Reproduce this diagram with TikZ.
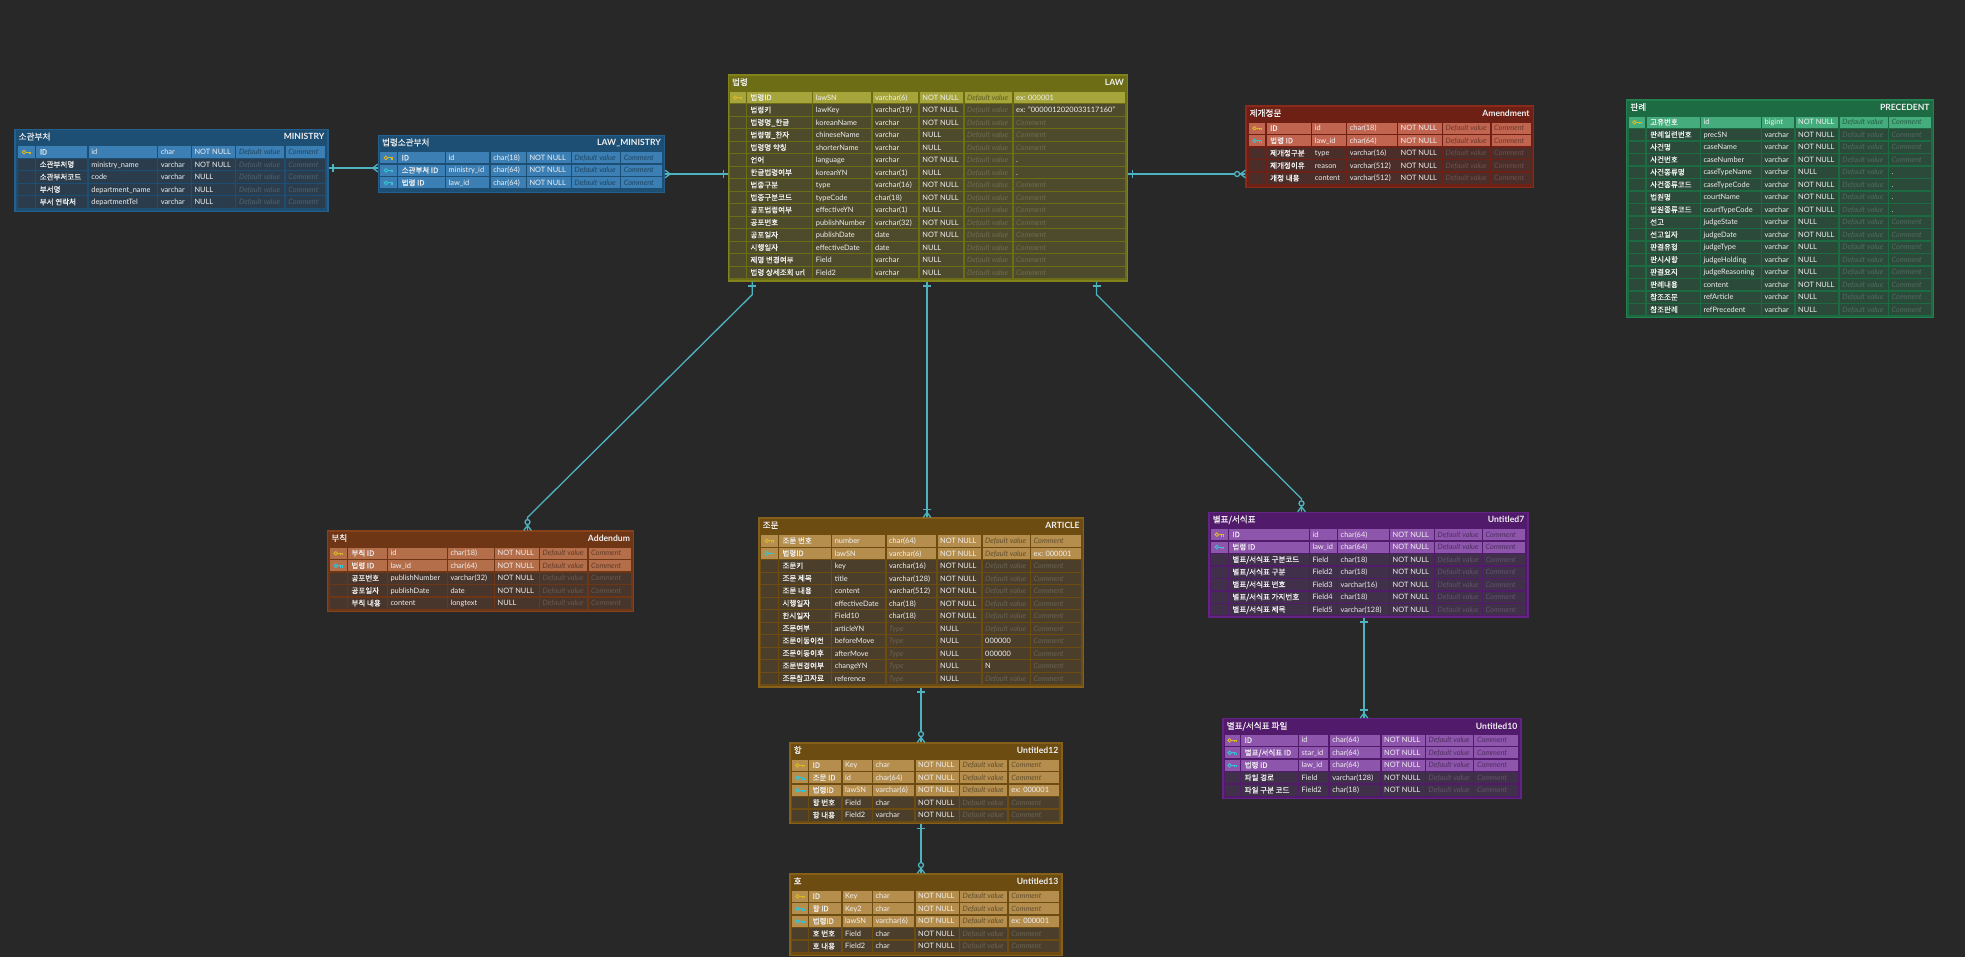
\documentclass[tikz,border=0pt]{standalone}
\usepackage{fontspec}
\setmainfont{Lato}
\newfontfamily\krf[FakeBold=0.5]{Noto Sans CJK KR}
\usetikzlibrary{fit}

\definecolor{bg}{HTML}{282828}
\definecolor{cn}{HTML}{4DB3C0}
\definecolor{ykey}{HTML}{D9B828}
\definecolor{ckey}{HTML}{36C3D3}
\definecolor{txtc}{HTML}{F0F0F0}

\newcommand\deftheme[5]{%
 \definecolor{#1FR}{HTML}{#2}\definecolor{#1BD}{HTML}{#3}%
 \definecolor{#1KY}{HTML}{#4}\definecolor{#1NM}{HTML}{#5}%
 \colorlet{#1KD}{#1KY!55!black}\colorlet{#1ND}{#1NM!82!white}}
\deftheme{blu}{1D4E73}{25608C}{3B7FB4}{2B3D4C}
\deftheme{olv}{6D6D16}{82821A}{A5A53C}{4E4B2C}
\deftheme{rdd}{6F2015}{8B2A1A}{C26550}{4B2D29}
\deftheme{grn}{1C6B43}{22814F}{45AD7D}{2B4A3A}
\deftheme{org}{6F3615}{86421A}{B46E4A}{48352B}
\deftheme{gld}{6D4C12}{866018}{B58E4E}{4B3F2C}
\deftheme{pur}{511A6B}{632485}{8E55AD}{40304A}

\tikzset{
 ltxt/.style={anchor=base west, inner sep=0, text=txtc, font=\fontsize{7.4}{9}\selectfont},
 ktxt/.style={anchor=base west, inner sep=0, text=txtc, font=\krf\fontsize{7.5}{9}\selectfont},
 ttlk/.style={anchor=base west, inner sep=0, text=txtc, font=\krf\fontsize{8.6}{10}\selectfont},
 ttle/.style={anchor=base east, inner sep=0, text=txtc, font=\bfseries\fontsize{8.6}{10}\selectfont},
 conn/.style={draw=cn, line width=1.3},
 tframe/.style={inner sep=0, line width=1.2}
}

\def\dv{\textcolor{dimc}{\itshape Default value}}
\def\cmt{\textcolor{dimc}{\itshape Comment}}
\def\typ{\textcolor{dimc}{\itshape Type}}

\newcommand\cols[8]{\def\bA{#1}\def\bB{#2}\def\bC{#3}\def\bD{#4}\def\bE{#5}\def\bF{#6}\def\bG{#7}\def\bH{#8}}
\newcommand\cellbox[2]{\fill[fill=\cf] (#1,\yt) rectangle ({#2-1.3},\yb);}
\newcommand\keyicon[1]{%
 \pgfmathsetmacro\cx{(\bA+\bB-1.3)/2}\pgfmathsetmacro\cy{\yt+5.6}%
 \draw[#1, line width=0.9] ({\cx-2.6},\cy) circle (1.8);
 \draw[#1, line width=0.9] ({\cx-0.8},\cy) -- ({\cx+4.2},\cy) ({\cx+2.4},\cy) -- ({\cx+2.4},{\cy+1.9}) ({\cx+4},\cy) -- ({\cx+4},{\cy+1.9});}
\newcommand\rw[8]{%
 \pgfmathsetmacro\yt{\ry+12.5*#1}%
 \pgfmathsetmacro\yb{\yt+11.2}%
 \pgfmathsetmacro\yl{\yt+8.2}%
 \if#2n\edef\cf{\tth NM}\colorlet{dimc}{\tth ND}\else\edef\cf{\tth KY}\colorlet{dimc}{\tth KD}\fi
 \cellbox\bA\bB \cellbox\bB\bC \cellbox\bC\bD \cellbox\bD\bE \cellbox\bE\bF \cellbox\bF\bG \cellbox\bG\bH
 \node[ktxt] (\tname-#1-1) at ({\bB+3.5},\yl) {#3};
 \node[ltxt] (\tname-#1-2) at ({\bC+2.5},\yl) {#4};
 \node[ltxt] (\tname-#1-3) at ({\bD+2.5},\yl) {#5};
 \node[ltxt] (\tname-#1-4) at ({\bE+2.5},\yl) {#6};
 \node[ltxt] (\tname-#1-5) at ({\bF+2.5},\yl) {#7};
 \node[ltxt] (\tname-#1-6) at ({\bG+2.5},\yl) {#8};
 \if#2p\keyicon{ykey}\fi\if#2f\keyicon{ckey}\fi}
\newcommand\dbtbl[8]{%
 \def\tth{#2}\def\tname{#1}%
 \node[tframe, draw=#2BD, fill=#2FR, fit={(#3,#4) (#5,#6)}] (#1) {};
 \node[ttlk] (#1-tk) at ({#3+3.5},{#4+10.3}) {#7};
 \node[ttle] (#1-te) at ({#5-3.5},{#4+10.3}) {#8};}

\newcommand\mkone[2]{\begin{scope}[shift={(#1)},rotate=#2]\draw[conn] (-4.5,-4) -- (-4.5,4);\end{scope}}
\newcommand\mkbar[2]{\begin{scope}[shift={(#1)},rotate=#2]\draw[conn] (-8,-4) -- (-8,4);\end{scope}}
\newcommand\mkmany[2]{\begin{scope}[shift={(#1)},rotate=#2]\draw[conn] (-5,0) -- (0,-3.8) (-5,0) -- (0,3.8);\end{scope}}
\newcommand\mkzero[2]{\begin{scope}[shift={(#1)},rotate=#2]\draw[conn,fill=bg] (-8.3,0) circle (2.5);\end{scope}}

\begin{document}
\begin{tikzpicture}[x=1pt,y=-1pt]
\useasboundingbox (0,0) rectangle (1965,957);
\fill[bg] (0,0) rectangle (1965,957);

% MINISTRY
\dbtbl{min}{blu}{15}{129.5}{328}{211.5}{소관부처}{MINISTRY}
\cols{18.4}{36.1}{88.7}{158.1}{191.8}{236.4}{285.7}{326.1}\def\ry{146.5}
\rw0p{ID}{id}{char}{NOT NULL}{\dv}{\cmt}
\rw1n{소관부처명}{ministry\_name}{varchar}{NOT NULL}{\dv}{\cmt}
\rw2n{소관부처코드}{code}{varchar}{NULL}{\dv}{\cmt}
\rw3n{부서명}{department\_name}{varchar}{NULL}{\dv}{\cmt}
\rw4n{부서 연락처}{departmentTel}{varchar}{NULL}{\dv}{\cmt}

% LAW_MINISTRY
\dbtbl{lm}{blu}{378.3}{135.3}{664.5}{192.3}{법령소관부처}{LAW\_MINISTRY}
\cols{380.4}{398}{446}{490.6}{526.8}{571.9}{621.1}{662.8}\def\ry{152.3}
\rw0p{ID}{id}{char(18)}{NOT NULL}{\dv}{\cmt}
\rw1f{소관부처 ID}{ministry\_id}{char(64)}{NOT NULL}{\dv}{\cmt}
\rw2f{법령 ID}{law\_id}{char(64)}{NOT NULL}{\dv}{\cmt}

% LAW
\dbtbl{law}{olv}{728.3}{75}{1127.7}{281}{법령}{LAW}
\cols{730}{746.8}{813.2}{872.5}{919.7}{964.5}{1013.5}{1126.3}\def\ry{92}
\rw0p{법령ID}{lawSN}{varchar(6)}{NOT NULL}{\dv}{ex: 000001}
\rw1n{법령키}{lawKey}{varchar(19)}{NOT NULL}{\dv}{ex: "0000012020033117160"}
\rw2n{법령명\_한글}{koreanName}{varchar}{NOT NULL}{\dv}{\cmt}
\rw3n{법령명\_한자}{chineseName}{varchar}{NULL}{\dv}{\cmt}
\rw4n{법령명 약칭}{shorterName}{varchar}{NULL}{\dv}{\cmt}
\rw5n{언어}{language}{varchar}{NOT NULL}{\dv}{.}
\rw6n{한글법령여부}{koreanYN}{varchar(1)}{NULL}{\dv}{.}
\rw7n{법종구분}{type}{varchar(16)}{NOT NULL}{\dv}{\cmt}
\rw8n{법종구분코드}{typeCode}{char(18)}{NOT NULL}{\dv}{\cmt}
\rw9n{공포법령여부}{effectiveYN}{varchar(1)}{NULL}{\dv}{\cmt}
\rw{10}n{공포번호}{publishNumber}{varchar(32)}{NOT NULL}{\dv}{\cmt}
\rw{11}n{공포일자}{publishDate}{date}{NOT NULL}{\dv}{\cmt}
\rw{12}n{시행일자}{effectiveDate}{date}{NULL}{\dv}{\cmt}
\rw{13}n{제명 변경여부}{Field}{varchar}{NULL}{\dv}{\cmt}
\rw{14}n{법령 상세조회 url}{Field2}{varchar}{NULL}{\dv}{\cmt}

% Amendment
\dbtbl{amd}{rdd}{1246}{106}{1533.3}{187.3}{제개정문}{Amendment}
\cols{1249}{1266.5}{1312.2}{1347.2}{1398}{1443}{1491.5}{1532}\def\ry{122.7}
\rw0p{ID}{id}{char(18)}{NOT NULL}{\dv}{\cmt}
\rw1f{법령 ID}{law\_id}{char(64)}{NOT NULL}{\dv}{\cmt}
\rw2n{제개정구분}{type}{varchar(16)}{NOT NULL}{\dv}{\cmt}
\rw3n{제개정이유}{reason}{varchar(512)}{NOT NULL}{\dv}{\cmt}
\rw4n{개정 내용}{content}{varchar(512)}{NOT NULL}{\dv}{\cmt}

% PRECEDENT
\dbtbl{prec}{grn}{1626.7}{100}{1933.3}{317.7}{판례}{PRECEDENT}
\cols{1629}{1646.5}{1700.8}{1762}{1795.5}{1839.7}{1889}{1932}\def\ry{116.7}
\rw0p{고유번호}{id}{bigint}{NOT NULL}{\dv}{\cmt}
\rw1n{판례일련번호}{precSN}{varchar}{NOT NULL}{\dv}{\cmt}
\rw2n{사건명}{caseName}{varchar}{NOT NULL}{\dv}{\cmt}
\rw3n{사건번호}{caseNumber}{varchar}{NOT NULL}{\dv}{\cmt}
\rw4n{사건종류명}{caseTypeName}{varchar}{NULL}{\dv}{.}
\rw5n{사건종류코드}{caseTypeCode}{varchar}{NOT NULL}{\dv}{.}
\rw6n{법원명}{courtName}{varchar}{NOT NULL}{\dv}{.}
\rw7n{법원종류코드}{courtTypeCode}{varchar}{NOT NULL}{\dv}{.}
\rw8n{선고}{judgeState}{varchar}{NULL}{\dv}{\cmt}
\rw9n{선고일자}{judgeDate}{varchar}{NOT NULL}{\dv}{\cmt}
\rw{10}n{판결유형}{judgeType}{varchar}{NULL}{\dv}{\cmt}
\rw{11}n{판시사항}{judgeHolding}{varchar}{NULL}{\dv}{\cmt}
\rw{12}n{판결요지}{judgeReasoning}{varchar}{NULL}{\dv}{\cmt}
\rw{13}n{판례내용}{content}{varchar}{NOT NULL}{\dv}{\cmt}
\rw{14}n{참조조문}{refArticle}{varchar}{NULL}{\dv}{\cmt}
\rw{15}n{참조판례}{refPrecedent}{varchar}{NULL}{\dv}{\cmt}

% Addendum
\dbtbl{add}{org}{327.7}{531}{633.7}{611.7}{부칙}{Addendum}
\cols{330.3}{347.8}{387.8}{447.8}{495}{540}{588.5}{632.3}\def\ry{547.7}
\rw0p{부칙 ID}{id}{char(18)}{NOT NULL}{\dv}{\cmt}
\rw1f{법령 ID}{law\_id}{char(64)}{NOT NULL}{\dv}{\cmt}
\rw2n{공포번호}{publishNumber}{varchar(32)}{NOT NULL}{\dv}{\cmt}
\rw3n{공포일자}{publishDate}{date}{NOT NULL}{\dv}{\cmt}
\rw4n{부칙 내용}{content}{longtext}{NULL}{\dv}{\cmt}

% ARTICLE
\dbtbl{art}{gld}{759}{518}{1083.3}{687}{조문}{ARTICLE}
\cols{761.3}{778.8}{832.1}{886.5}{937.5}{982.5}{1031}{1082.3}\def\ry{535.3}
\rw0p{조문 번호}{number}{char(64)}{NOT NULL}{\dv}{\cmt}
\rw1f{법령ID}{lawSN}{varchar(6)}{NOT NULL}{\dv}{ex: 000001}
\rw2n{조문키}{key}{varchar(16)}{NOT NULL}{\dv}{\cmt}
\rw3n{조문 제목}{title}{varchar(128)}{NOT NULL}{\dv}{\cmt}
\rw4n{조문 내용}{content}{varchar(512)}{NOT NULL}{\dv}{\cmt}
\rw5n{시행일자}{effectiveDate}{char(18)}{NOT NULL}{\dv}{\cmt}
\rw6n{한시일자}{Field10}{char(18)}{NOT NULL}{\dv}{\cmt}
\rw7n{조문여부}{articleYN}{\typ}{NULL}{\dv}{\cmt}
\rw8n{조문이동이전}{beforeMove}{\typ}{NULL}{000000}{\cmt}
\rw9n{조문이동이후}{afterMove}{\typ}{NULL}{000000}{\cmt}
\rw{10}n{조문변경여부}{changeYN}{\typ}{NULL}{N}{\cmt}
\rw{11}n{조문참고자료}{reference}{\typ}{NULL}{\dv}{\cmt}

% Untitled7
\dbtbl{u7}{pur}{1209}{512.3}{1528}{617}{별표/서식표}{Untitled7}
\cols{1211.3}{1228.8}{1309.8}{1338}{1390}{1435}{1483}{1526}\def\ry{529}
\rw0p{ID}{id}{char(64)}{NOT NULL}{\dv}{\cmt}
\rw1f{법령 ID}{law\_id}{char(64)}{NOT NULL}{\dv}{\cmt}
\rw2n{별표/서식표 구분코드}{Field}{char(18)}{NOT NULL}{\dv}{\cmt}
\rw3n{별표/서식표 구분}{Field2}{char(18)}{NOT NULL}{\dv}{\cmt}
\rw4n{별표/서식표 번호}{Field3}{varchar(16)}{NOT NULL}{\dv}{\cmt}
\rw5n{별표/서식표 가지번호}{Field4}{char(18)}{NOT NULL}{\dv}{\cmt}
\rw6n{별표/서식표 제목}{Field5}{varchar(128)}{NOT NULL}{\dv}{\cmt}

% Untitled10
\dbtbl{u10}{pur}{1223}{718.7}{1521}{798.7}{별표/서식표 파일}{Untitled10}
\cols{1224.7}{1241}{1299}{1329.7}{1381.5}{1426}{1474.3}{1519.5}\def\ry{734.7}
\rw0p{ID}{id}{char(64)}{NOT NULL}{\dv}{\cmt}
\rw1f{별표/서식표 ID}{star\_id}{char(64)}{NOT NULL}{\dv}{\cmt}
\rw2f{법령 ID}{law\_id}{char(64)}{NOT NULL}{\dv}{\cmt}
\rw3n{파일 경로}{Field}{varchar(128)}{NOT NULL}{\dv}{\cmt}
\rw4n{파일 구분 코드}{Field2}{char(18)}{NOT NULL}{\dv}{\cmt}

% Untitled12
\dbtbl{u12}{gld}{790}{743}{1062}{823.7}{항}{Untitled12}
\cols{792.3}{809}{842.5}{873}{915.5}{960}{1008.7}{1060.3}\def\ry{759.7}
\rw0p{ID}{Key}{char}{NOT NULL}{\dv}{\cmt}
\rw1f{조문 ID}{id}{char(64)}{NOT NULL}{\dv}{\cmt}
\rw2f{법령ID}{lawSN}{varchar(6)}{NOT NULL}{\dv}{ex: 000001}
\rw3n{항 번호}{Field}{char}{NOT NULL}{\dv}{\cmt}
\rw4n{항 내용}{Field2}{varchar}{NOT NULL}{\dv}{\cmt}

% Untitled13
\dbtbl{u13}{gld}{790}{874}{1062}{955.3}{호}{Untitled13}
\cols{792.3}{809}{842.5}{873}{915.5}{960}{1008.7}{1060.3}\def\ry{890.7}
\rw0p{ID}{Key}{char}{NOT NULL}{\dv}{\cmt}
\rw1f{항 ID}{Key2}{char}{NOT NULL}{\dv}{\cmt}
\rw2f{법령ID}{lawSN}{varchar(6)}{NOT NULL}{\dv}{ex: 000001}
\rw3n{호 번호}{Field}{char}{NOT NULL}{\dv}{\cmt}
\rw4n{호 내용}{Field2}{char}{NOT NULL}{\dv}{\cmt}

% ---------- connectors ----------
\coordinate (yA) at (0,168);
\coordinate (yB) at (0,174);
\coordinate (xL1) at (752.3,0);
\coordinate (xL2) at (927,0);
\coordinate (xL3) at (1096.5,0);
\coordinate (xAdd) at (527.5,0);
\coordinate (xU7) at (1301.5,0);
\coordinate (xA) at (921,0);
\coordinate (xU) at (1364,0);

\coordinate (e1a) at (min.east |- yA); \coordinate (e1b) at (lm.west |- yA);
\draw[conn] (e1a) -- (e1b); \mkone{e1a}{180} \mkmany{e1b}{0}

\coordinate (e2a) at (lm.east |- yB); \coordinate (e2b) at (law.west |- yB);
\draw[conn] (e2a) -- (e2b); \mkmany{e2a}{180} \mkone{e2b}{0}

\coordinate (e3a) at (law.east |- yB); \coordinate (e3b) at (amd.west |- yB);
\draw[conn] (e3a) -- (e3b); \mkone{e3a}{180} \mkzero{e3b}{0} \mkmany{e3b}{0}

\coordinate (e4a) at (law.south -| xL1); \coordinate (e4b) at (add.north -| xAdd);
\draw[conn] (e4a) -- ++(0,13) -- ([yshift=13pt]e4b) -- (e4b);
\mkone{e4a}{90} \mkzero{e4b}{-90} \mkmany{e4b}{-90}

\coordinate (e5a) at (law.south -| xL2); \coordinate (e5b) at (art.north -| xL2);
\draw[conn] (e5a) -- (e5b); \mkone{e5a}{90} \mkbar{e5b}{-90} \mkmany{e5b}{-90}

\coordinate (e6a) at (law.south -| xL3); \coordinate (e6b) at (u7.north -| xU7);
\draw[conn] (e6a) -- ++(0,13) -- ([yshift=13pt]e6b) -- (e6b);
\mkone{e6a}{90} \mkzero{e6b}{-90} \mkmany{e6b}{-90}

\coordinate (e7a) at (art.south -| xA); \coordinate (e7b) at (u12.north -| xA);
\draw[conn] (e7a) -- (e7b); \mkone{e7a}{90} \mkzero{e7b}{-90} \mkmany{e7b}{-90}

\coordinate (e8a) at (u12.south -| xA); \coordinate (e8b) at (u13.north -| xA);
\draw[conn] (e8a) -- (e8b); \mkone{e8a}{90} \mkzero{e8b}{-90} \mkmany{e8b}{-90}

\coordinate (e9a) at (u7.south -| xU); \coordinate (e9b) at (u10.north -| xU);
\draw[conn] (e9a) -- (e9b); \mkone{e9a}{90} \mkbar{e9b}{-90} \mkmany{e9b}{-90}
\end{tikzpicture}
\end{document}
